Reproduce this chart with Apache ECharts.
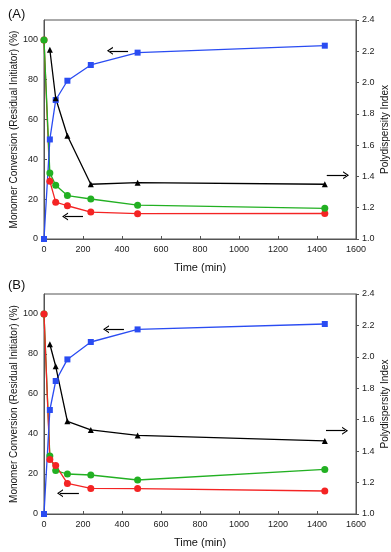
<!DOCTYPE html>
<html>
<head>
<meta charset="utf-8">
<script src="https://cdn.jsdelivr.net/npm/echarts@6/dist/echarts.min.js"></script>
<style>html,body{margin:0;padding:0;background:#fff;}#c{width:391px;height:552px;}</style>
</head>
<body>
<div id="c"></div>
<script>
// ---- data ----
var time = [0, 30, 60, 120, 240, 480, 1440];
var xTicks = [0, 200, 400, 600, 800, 1000, 1200, 1400, 1600];
var leftTicks = [0, 20, 40, 60, 80, 100];
var rightTicks = [1.0, 1.2, 1.4, 1.6, 1.8, 2.0, 2.2, 2.4];

var A_conversion = [0, 50, 69.8, 79.5, 87.4, 93.6, 97.1];
var A_green = [100, 33.2, 27, 21.8, 20.1, 17.0, 15.4];
var A_red = [100, 29, 18.5, 16.7, 13.5, 12.7, 12.8];
var A_pdi = [null, 2.21, 1.90, 1.66, 1.35, 1.36, 1.35];

var B_conversion = [0, 52, 66.5, 77.3, 86, 92.3, 95];
var B_green = [100, 29, 21.7, 20, 19.5, 17, 22.3];
var B_red = [100, 27.3, 24.3, 15.3, 12.8, 12.7, 11.5];
var B_pdi = [null, 2.08, 1.94, 1.59, 1.535, 1.50, 1.465];

// arrows (data units): [xStart, xEnd, y]
var A_arrowConv = [431, 338, 94.5];
var A_arrowInit = [200, 108, 11.3];
var A_arrowPdi = [1450, 1549, 1.408];
var B_arrowConv = [410, 318, 92.4];
var B_arrowInit = [179, 82, 10.4];
var B_arrowPdi = [1446, 1544, 1.53];

// ---- styles ----
var FONT = 'Liberation Sans, Arial, sans-serif';
var AXC = '#555';
var BLUE = '#2a4cf2', GREEN = '#22b022', RED = '#f42424', BLACK = '#000';
var CHEVRON = 'path://M5,0 L10,8 L8.4,8 L5,2.6 L1.6,8 L0,8 Z';

function pairs(v) {
  var out = [];
  for (var i = 0; i < time.length; i++) if (v[i] != null) out.push([time[i], v[i]]);
  return out;
}
function arrow(a) {
  return {
    silent: true, animation: false,
    symbol: ['none', CHEVRON], symbolSize: [8, 6],
    lineStyle: { color: '#000', width: 1.2, type: 'solid' },
    label: { show: false },
    data: [[{ coord: [a[0], a[2]] }, { coord: [a[1], a[2]] }]]
  };
}
function series(name, v, grid, yIdx, color, symbol, size, arr) {
  var s = {
    name: name, type: 'line', xAxisIndex: grid, yAxisIndex: yIdx,
    data: pairs(v), symbol: symbol, symbolSize: size, showSymbol: true,
    lineStyle: { color: color, width: 1.3 },
    itemStyle: { color: color },
    animation: false, silent: true
  };
  if (arr) s.markLine = arrow(arr);
  return s;
}
function xAxis(grid) {
  return {
    type: 'value', gridIndex: grid, min: 0, max: 1600, interval: 200,
    name: 'Time (min)', nameLocation: 'middle', nameGap: 23, nameMoveOverlap: false,
    nameTextStyle: { fontFamily: FONT, fontSize: 11, color: '#111' },
    axisLine: { show: true, lineStyle: { color: AXC, width: 1 } },
    axisTick: { show: true, length: 3, inside: true, lineStyle: { color: AXC } },
    axisLabel: { fontFamily: FONT, fontSize: 9, color: '#222', margin: 6,
      formatter: function (v) { return String(v); } },
    splitLine: { show: false }
  };
}
function yLeft(grid) {
  return {
    type: 'value', gridIndex: grid, position: 'left', min: 0, max: 110, interval: 20,
    name: 'Monomer Conversion (Residual Initiator) (%)', nameLocation: 'middle', nameGap: 25,
    nameMoveOverlap: false,
    nameTextStyle: { fontFamily: FONT, fontSize: 10, color: '#111' },
    axisLine: { show: true, lineStyle: { color: AXC, width: 1 } },
    axisTick: { show: true, length: 3, inside: true, lineStyle: { color: AXC }, customValues: leftTicks },
    axisLabel: { fontFamily: FONT, fontSize: 9, color: '#222', margin: 6, customValues: leftTicks },
    splitLine: { show: false }
  };
}
function yRight(grid) {
  return {
    type: 'value', gridIndex: grid, position: 'right', min: 1.0, max: 2.4, interval: 0.2,
    name: 'Polydispersity Index', nameLocation: 'middle', nameGap: 24, nameMoveOverlap: false,
    nameTextStyle: { fontFamily: FONT, fontSize: 10, color: '#111' },
    axisLine: { show: true, lineStyle: { color: AXC, width: 1 } },
    axisTick: { show: true, length: 3, lineStyle: { color: AXC } },
    axisLabel: { fontFamily: FONT, fontSize: 9, color: '#222', margin: 6,
      formatter: function (v) { return v.toFixed(1); } },
    splitLine: { show: false }
  };
}

var chart = echarts.init(document.getElementById('c'), null, { renderer: 'canvas' });
chart.setOption({
  backgroundColor: '#fff',
  animation: false,
  title: [
    { text: '(A)', left: 3, top: 3, textStyle: { fontFamily: FONT, fontSize: 13, fontWeight: 'normal', color: '#111' } },
    { text: '(B)', left: 3, top: 274, textStyle: { fontFamily: FONT, fontSize: 13, fontWeight: 'normal', color: '#111' } }
  ],
  grid: [
    { left: 44, right: 35, top: 20, height: 219, outerBoundsMode: 'none', containLabel: false,
      show: true, borderColor: AXC, borderWidth: 1, backgroundColor: 'transparent' },
    { left: 44, right: 35, top: 294, height: 220, outerBoundsMode: 'none', containLabel: false,
      show: true, borderColor: AXC, borderWidth: 1, backgroundColor: 'transparent' }
  ],
  xAxis: [xAxis(0), xAxis(1)],
  yAxis: [yLeft(0), yRight(0), yLeft(1), yRight(1)],
  series: [
    series('A red', A_red, 0, 0, RED, 'circle', 7, null),
    series('A green', A_green, 0, 0, GREEN, 'circle', 7, A_arrowInit),
    series('A conversion', A_conversion, 0, 0, BLUE, 'rect', 6, A_arrowConv),
    series('A PDI', A_pdi, 0, 1, BLACK, 'triangle', 6, A_arrowPdi),
    series('B green', B_green, 1, 2, GREEN, 'circle', 7, null),
    series('B red', B_red, 1, 2, RED, 'circle', 7, B_arrowInit),
    series('B conversion', B_conversion, 1, 2, BLUE, 'rect', 6, B_arrowConv),
    series('B PDI', B_pdi, 1, 3, BLACK, 'triangle', 6, B_arrowPdi)
  ]
});
</script>
</body>
</html>
